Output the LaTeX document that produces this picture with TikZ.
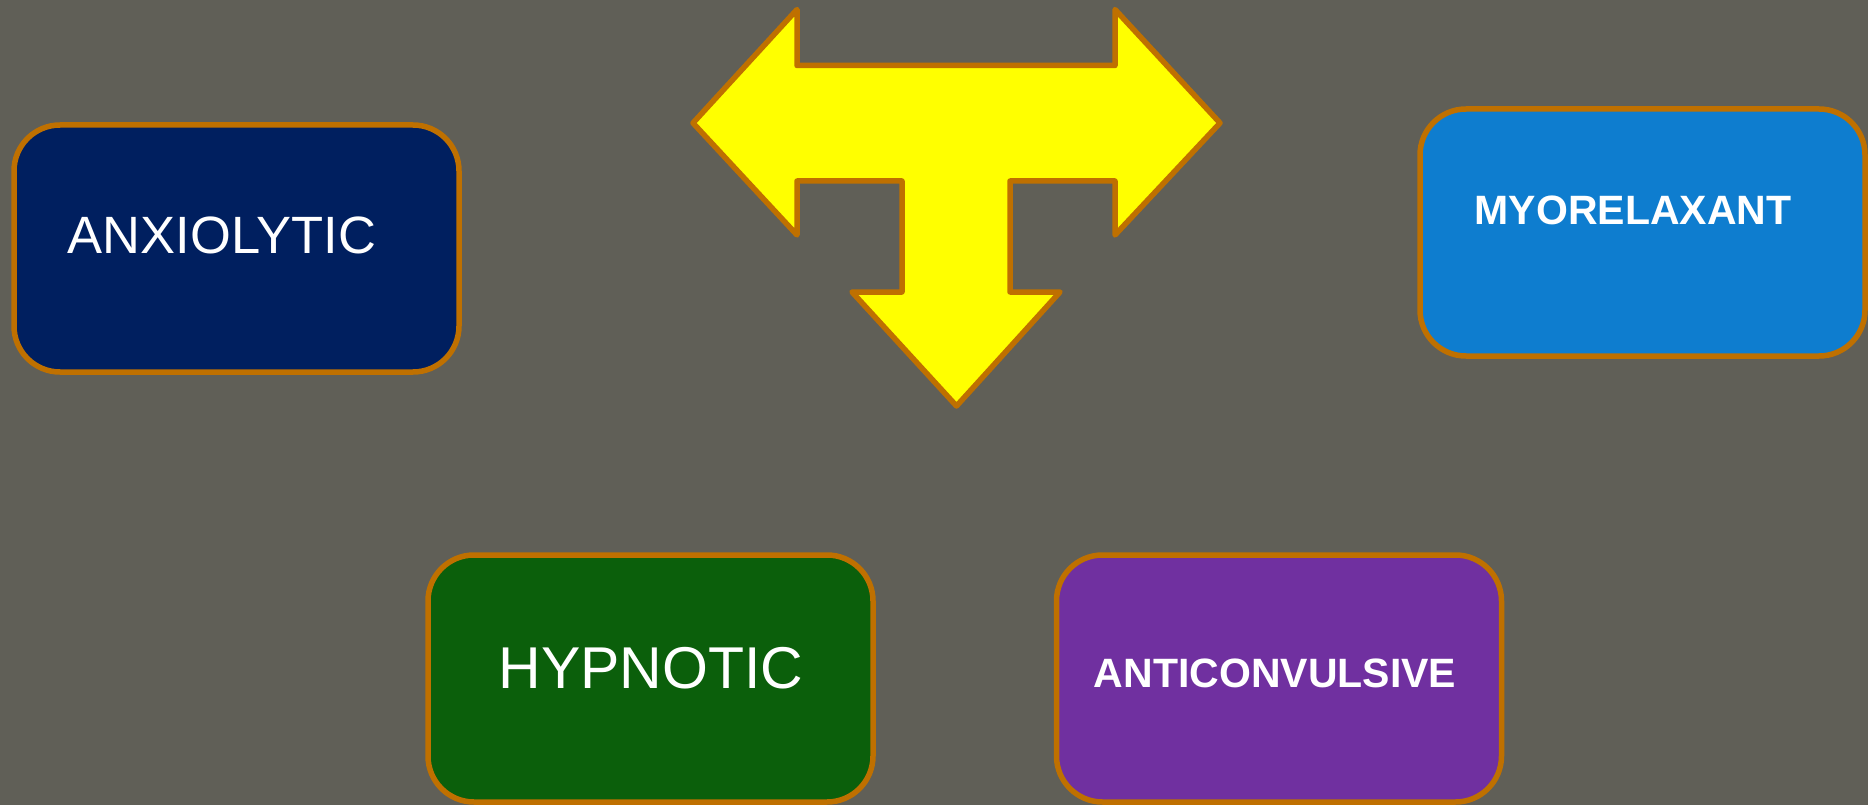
\documentclass[tikz,border=0pt]{standalone}
\usepackage{fontspec}
\setmainfont{Liberation Sans}
\definecolor{bgc}{RGB}{96,95,87}
\definecolor{edgec}{RGB}{191,112,0}
\definecolor{navyc}{RGB}{0,31,95}
\definecolor{bluec}{RGB}{14,125,207}
\definecolor{greenc}{RGB}{11,95,11}
\definecolor{purplec}{RGB}{112,48,160}
\definecolor{yelc}{RGB}{255,255,0}
\begin{document}
\begin{tikzpicture}[x=1pt,y=-1pt,
  box/.style={draw=edgec,line width=5.5pt,rounded corners=46pt,minimum width=445pt,minimum height=247pt,inner sep=0pt},
  lbl/.style={text=white,inner sep=0pt,anchor=center},
  reg/.style={lbl,font=\fontsize{52.5}{60}\selectfont},
  big/.style={lbl,font=\fontsize{59}{68}\selectfont},
  bld/.style={lbl,font=\fontsize{41}{50}\selectfont\bfseries}]
\fill[bgc] (0,0) rectangle (1868,805);
\useasboundingbox (0,0) rectangle (1868,805);
% boxes
\node[box,fill=navyc] (anx) at (236.5,248.5) {};
\node[box,fill=bluec] (myo) at (1642.5,232.5) {};
\node[box,fill=greenc] (hyp) at (650.5,678.5) {};
\node[box,fill=purplec] (ant) at (1279,678.5) {};
% labels
\node[reg] (tanx) at (222,235) {ANXIOLYTIC};
\node[bld] (tmyo) at (1633,210) {MYORELAXANT};
\node[big] (thyp) at (651,668) {HYPNOTIC};
\node[bld] (tant) at (1275,673) {ANTICONVULSIVE};
% T-shaped arrow
\draw[draw=edgec,fill=yelc,line width=5.5pt,line join=round]
  (693,123) -- (797,9.5) -- (797,65.5) -- (1115,65.5) -- (1115,9.5) -- (1220,123)
  -- (1115,235) -- (1115,181) -- (1010,181) -- (1010,292) -- (1060,292)
  -- (956.5,406) -- (852,292) -- (902,292) -- (902,181) -- (797,181)
  -- (797,235) -- cycle;
\end{tikzpicture}
\end{document}
